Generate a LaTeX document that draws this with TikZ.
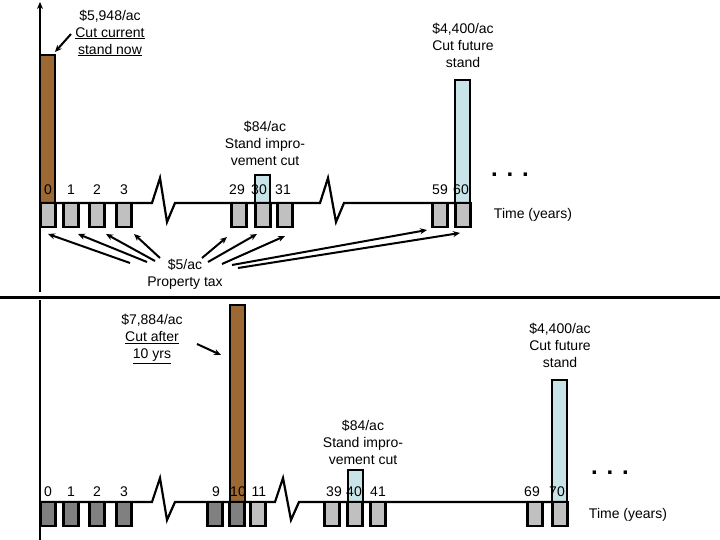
\documentclass[tikz,border=0pt]{standalone}
\usepackage{fontspec}
\setmainfont{Liberation Sans}
\usetikzlibrary{arrows.meta}
\definecolor{brn}{RGB}{156,104,52}
\definecolor{lb}{RGB}{200,228,232}
\definecolor{lg}{RGB}{192,192,192}
\definecolor{dg}{RGB}{128,128,128}
\begin{document}
\begin{tikzpicture}[x=1pt,y=-1pt,
  ln/.style={line width=2.2pt},
  box/.style={draw=black,line width=2.2pt},
  lbl/.style={font=\fontsize{14}{17}\selectfont,align=center,inner sep=0pt},
  num/.style={font=\fontsize{14}{16}\selectfont,inner sep=0pt},
  arr/.style={line width=2pt,-{Stealth[length=7pt,width=6pt]}}]
\useasboundingbox (0,0) rectangle (720,540);
% ---------- top panel
\draw[ln,-{Stealth[length=7pt,width=6pt]}] (40,292) -- (40,2);
\draw[box,fill=brn] (40,55) rectangle (55,203);
\draw[box,fill=lb] (255,175) rectangle (270,203);
\draw[box,fill=lb] (455,80) rectangle (470,203);
\draw[ln] (40,203) -- (152,203) -- (160,178) -- (167,222) -- (175,203) -- (320,203) -- (328,178) -- (336,222) -- (344,203) -- (470,203);
\foreach \c in {48,71,97,124,239,263,285,440,463}
  \draw[box,fill=lg] (\c-7.5,203) rectangle (\c+7.5,227);
\foreach \c/\t in {48/0,71/1,97/2,124/3,237/29,259/30,283/31,440/59,461/60}
  \node[num] at (\c,190) {\t};
\node[lbl] (t1) at (110,33) {\$5,948/ac\\\underline{Cut current}\\\underline{stand now}};
\coordinate (t1a) at (71,34);
\coordinate (t1b) at (55,52);
\draw[arr] (t1a) -- (t1b);
\node[lbl] (t2) at (463,45) {\$4,400/ac\\Cut future\\stand};
\node[lbl] (t3) at (265,143) {\$84/ac\\Stand impro-\\vement cut};
\node[font=\fontsize{24}{24}\selectfont\bfseries] (d1) at (510,175) {. . .};
\node[lbl] (ty1) at (533,215) {Time (years)};
\node[lbl] (tax) at (185,274) {\$5/ac\\Property tax};
\coordinate (b0) at (48,234); \coordinate (b1) at (78,234); \coordinate (b2) at (106,234); \coordinate (b3) at (134,234);
\coordinate (b29) at (227,237); \coordinate (b30) at (257,234); \coordinate (b31) at (285,236);
\coordinate (b59) at (427,230); \coordinate (b60) at (460,233);
\draw[arr] (130,263) -- (b0);
\draw[arr] (147,262) -- (b1);
\draw[arr] (155,261) -- (b2);
\draw[arr] (160,258) -- (b3);
\draw[arr] (202,258) -- (b29);
\draw[arr] (208,262) -- (b30);
\draw[arr] (222,264) -- (b31);
\draw[arr] (232,265) -- (b59);
\draw[arr] (238,268) -- (b60);
% separator
\draw[line width=3pt] (0,297) -- (720,297);
% ---------- bottom panel
\draw[ln] (40,540) -- (40,300);
\draw[box,fill=brn] (230,305) rectangle (245,502);
\draw[box,fill=lb] (348,470) rectangle (363,502);
\draw[box,fill=lb] (552,380) rectangle (567,502);
\draw[ln] (40,502) -- (152,502) -- (160,478) -- (167,520) -- (175,502) -- (275,502) -- (283,478) -- (291,520) -- (299,502) -- (567,502);
\foreach \c in {48,71,97,124,215,237}
  \draw[box,fill=dg] (\c-7.5,502) rectangle (\c+7.5,526);
\foreach \c in {258,332,355,378,535,560}
  \draw[box,fill=lg] (\c-7.5,502) rectangle (\c+7.5,526);
\foreach \c/\t in {48/0,71/1,97/2,124/3,216/9,238/10,259/11,334/39,354/40,378/41,532/69,557/70}
  \node[num] at (\c,492) {\t};
\node[lbl] (u1) at (152,339) {\$7,884/ac\\\underline{Cut after}\\\underline{10 yrs}};
\coordinate (u1a) at (197,344);
\coordinate (u1b) at (221,355);
\draw[arr] (u1a) -- (u1b);
\node[lbl] (u2) at (560,345) {\$4,400/ac\\Cut future\\stand};
\node[lbl] (u3) at (363,442) {\$84/ac\\Stand impro-\\vement cut};
\node[font=\fontsize{24}{24}\selectfont\bfseries] (d2) at (610,473) {. . .};
\node[lbl] (ty2) at (628,515) {Time (years)};
\end{tikzpicture}
\end{document}
